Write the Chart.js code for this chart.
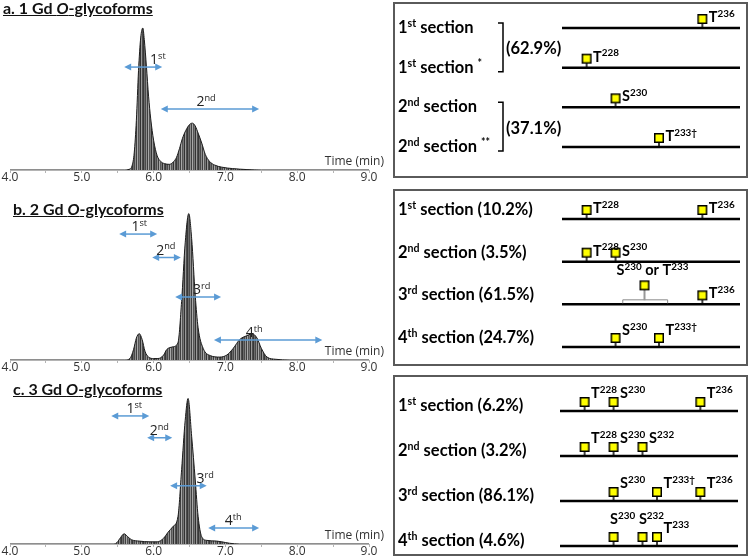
<!DOCTYPE html>
<html>
<head>
<meta charset="utf-8">
<script src="https://cdn.jsdelivr.net/npm/chart.js@4.4.1/dist/chart.umd.min.js"></script>
<style>
  body { margin: 0; width: 748px; height: 556px; overflow: hidden; background: #fff; position: relative; }
  .chrom { position: absolute; left: 0; }
  .title { position: absolute; font: bold 16px Lato, sans-serif; line-height: 16px; text-decoration: underline; color: #111; white-space: nowrap; }
  .box { position: absolute; left: 393px; width: 355px; border: 2px solid #5a5a5a; box-sizing: border-box; }
  .box canvas { position: absolute; left: 0; top: 0; }
</style>
</head>
<body>
<canvas id="chromA" class="chrom" width="392" height="186" style="top:0px"></canvas>
<canvas id="chromB" class="chrom" width="392" height="191" style="top:185px"></canvas>
<canvas id="chromC" class="chrom" width="392" height="190" style="top:370px"></canvas>
<div class="title" style="left:3px; top:0px">a. 1 Gd <i>O</i>-glycoforms</div>
<div class="title" style="left:13px; top:201px">b. 2 Gd <i>O</i>-glycoforms</div>
<div class="title" style="left:13px; top:381px">c. 3 Gd <i>O</i>-glycoforms</div>
<div class="box" style="top:2px; height:176px"><canvas id="siteA" width="351" height="172"></canvas></div>
<div class="box" style="top:189px; height:177px"><canvas id="siteB" width="351" height="173"></canvas></div>
<div class="box" style="top:375px; height:181px"><canvas id="siteC" width="351" height="177"></canvas></div>
<script>
// chromatograms: retention time (min) vs relative intensity (%)
const timeA = [4.0, 5.6, 5.66, 5.70, 5.73, 5.76, 5.79, 5.82, 5.85, 5.87, 5.90, 5.93, 5.96, 6.00, 6.05, 6.10, 6.15, 6.22, 6.28, 6.32, 6.36, 6.40, 6.45, 6.50, 6.54, 6.58, 6.62, 6.67, 6.72, 6.78, 6.85, 6.95, 7.10, 7.30, 7.50, 9.0];
const intensityA = [0, 0, 0.5, 3, 12, 35, 70, 93, 100, 92, 73, 52, 36, 21, 10, 6, 4.5, 4, 6, 9, 15, 22, 28, 32, 33, 31, 26, 19, 11, 6, 3.5, 2, 1, 0.3, 0, 0];

const timeB = [4.0, 5.6, 5.67, 5.72, 5.76, 5.80, 5.84, 5.88, 5.93, 6.0, 6.06, 6.14, 6.18, 6.27, 6.34, 6.39, 6.44, 6.49, 6.53, 6.58, 6.62, 6.69, 6.79, 6.92, 7.02, 7.11, 7.20, 7.32, 7.37, 7.44, 7.50, 7.58, 7.70, 7.9, 9.0];
const intensityB = [0, 0, 1, 7, 15, 18, 14, 6, 2, 1, 1, 3.4, 7, 9, 12, 40, 80, 100, 83, 44, 22, 8, 3, 2, 3.4, 8, 14, 17, 18, 15, 8, 2, 0.5, 0, 0];

const timeC = [4.0, 5.45, 5.49, 5.54, 5.59, 5.64, 5.69, 5.8, 5.95, 6.05, 6.14, 6.20, 6.27, 6.34, 6.39, 6.44, 6.48, 6.53, 6.58, 6.62, 6.67, 6.74, 6.88, 6.95, 7.06, 7.2, 9.0];
const intensityC = [0, 0, 1, 4.5, 7, 5, 3, 2, 1.5, 1.5, 4, 8, 12, 19, 51, 85, 100, 74, 44, 19, 5, 2.5, 2, 1.5, 0.5, 0, 0];

// section arrows on the chromatograms (time range, height in %, label)
const arrowFromA = [5.59, 6.10];
const arrowToA = [6.12, 7.47];
const arrowYA = [72.5, 43];
const arrowTextA = ['1^st', '2^nd'];
const arrowTextXA = [6.06, 6.73];

const arrowFromB = [5.52, 5.98, 6.30, 6.84];
const arrowToB = [6.05, 6.38, 6.94, 8.35];
const arrowYB = [86, 70, 43, 13.6];
const arrowTextB = ['1^st', '2^nd', '3^rd', '4^th'];
const arrowTextXB = [5.80, 6.17, 6.67, 7.40];

const arrowFromC = [5.41, 5.91, 6.23, 6.76];
const arrowToC = [5.94, 6.26, 6.74, 7.47];
const arrowYC = [88, 73, 40, 11];
const arrowTextC = ['1^st', '2^nd', '3^rd', '4^th'];
const arrowTextXC = [5.73, 6.08, 6.72, 7.11];

const timeTicks = [4.0, 5.0, 6.0, 7.0, 8.0, 9.0];

// glycosylation site maps (residue numbers on the peptide backbone)
const backbone = [226.3, 238.6];

const rowsA = ['1^st section', '1^st section ^*', '2^nd section', '2^nd section ^**'];
const shareA = ['(62.9%)', '(37.1%)'];
const siteRowA = [0, 1, 2, 3];
const siteResA = [236, 228, 230, 233];
const siteNameA = ['T^236', 'T^228', 'S^230', 'T^233†'];

const rowsB = ['1^st section', '2^nd section', '3^rd section', '4^th section'];
const shareB = [10.2, 3.5, 61.5, 24.7];
const siteRowB = [0, 0, 1, 1, 2, 3, 3];
const siteResB = [228, 236, 228, 230, 236, 230, 233];
const siteNameB = ['T^228', 'T^236', 'T^228', 'S^230', 'T^236', 'S^230', 'T^233†'];
const ambiguousRowB = [2];
const ambiguousResB = [232];
const ambiguousSpanB = [230.5, 233.6];
const ambiguousNameB = ['S^230 or T^233'];

const rowsC = ['1^st section', '2^nd section', '3^rd section', '4^th section'];
const shareC = [6.2, 3.2, 86.1, 4.6];
const siteRowC = [0, 0, 0, 1, 1, 1, 2, 2, 2, 3, 3, 3];
const siteResC = [228, 230, 236, 228, 230, 232, 230, 233, 236, 230, 232, 233];
const siteNameC = ['T^228', 'S^230', 'T^236', 'T^228', 'S^230', 'S^232', 'S^230', 'T^233†', 'T^236', 'S^230', 'S^232', 'T^233'];

const FONT = 'Lato, sans-serif';
const AXIS_FONT = '"Open Sans", sans-serif';

// text with ^superscripts
function parseRich(s) {
    const parts = [];
    let cur = '';
    let sup = false;
    for (const ch of s) {
        if (ch === '^') {
            if (cur) parts.push([cur, sup]);
            cur = '';
            sup = true;
            continue;
        }
        if (ch === ' ' && sup) {
            parts.push([cur, true]);
            cur = ' ';
            sup = false;
            continue;
        }
        cur += ch;
    }
    if (cur) parts.push([cur, sup]);
    return parts;
}

function drawRich(ctx, s, x, y, size, align, weight, family, supRatio) {
    const ratio = supRatio || 0.68;
    const parts = parseRich(s);
    const fonts = parts.map(p => `${weight} ${p[1] ? (size * ratio).toFixed(1) : size}px ${family}`);
    let w = 0;
    parts.forEach((p, i) => { ctx.font = fonts[i]; w += ctx.measureText(p[0]).width; });
    let cx = align === 'center' ? x - w / 2 : (align === 'right' ? x - w : x);
    ctx.textAlign = 'left';
    ctx.textBaseline = 'alphabetic';
    parts.forEach((p, i) => {
        ctx.font = fonts[i];
        ctx.fillText(p[0], cx, p[1] ? y - size * 0.36 : y);
        cx += ctx.measureText(p[0]).width;
    });
    return w;
}

// striped grey fill like the stacked spectra
function stripes() {
    const c = document.createElement('canvas');
    const greys = ['#383838', '#6a6a6a', '#4a4a4a', '#8e8e8e', '#404040', '#a8a8a8', '#555555', '#777777', '#333333', '#999999', '#4d4d4d'];
    c.width = greys.length;
    c.height = 1;
    const g = c.getContext('2d');
    greys.forEach((col, i) => { g.fillStyle = col; g.fillRect(i, 0, 1, 1); });
    return c;
}

const arrowPlugin = {
    id: 'arrows',
    afterDatasetsDraw(chart, args, opts) {
        const { ctx, chartArea } = chart;
        const x = chart.scales.x;
        const y = chart.scales.y;
        ctx.save();
        ctx.strokeStyle = '#5b9bd5';
        ctx.fillStyle = '#5b9bd5';
        ctx.lineWidth = 1.5;
        opts.from.forEach((f, i) => {
            const x1 = x.getPixelForValue(f);
            const x2 = x.getPixelForValue(opts.to[i]);
            const yy = y.getPixelForValue(opts.y[i]);
            ctx.beginPath();
            ctx.moveTo(x1 + 5, yy);
            ctx.lineTo(x2 - 5, yy);
            ctx.stroke();
            ctx.beginPath();
            ctx.moveTo(x1, yy); ctx.lineTo(x1 + 7, yy - 3.5); ctx.lineTo(x1 + 7, yy + 3.5); ctx.closePath();
            ctx.moveTo(x2, yy); ctx.lineTo(x2 - 7, yy - 3.5); ctx.lineTo(x2 - 7, yy + 3.5); ctx.closePath();
            ctx.fill();
        });
        ctx.fillStyle = '#222';
        opts.text.forEach((t, i) => {
            drawRich(ctx, t, x.getPixelForValue(opts.textX[i]), y.getPixelForValue(opts.y[i]) - 3, 14, 'center', 'normal', AXIS_FONT, 0.66);
        });
        ctx.fillStyle = '#333';
        ctx.font = '12px ' + AXIS_FONT;
        ctx.textAlign = 'right';
        ctx.textBaseline = 'alphabetic';
        ctx.fillText('Time (min)', 384, chartArea.bottom - 5);
        ctx.restore();
    }
};

function chromatogram(id, times, values, from, to, ys, text, textX) {
    const ctx = document.getElementById(id).getContext('2d');
    const points = times.map((t, i) => ({ x: t, y: values[i] }));
    return new Chart(ctx, { // eslint-disable-line
        type: 'line',
        data: {
            datasets: [{
                data: points,
                borderColor: '#1c1c1c',
                borderWidth: 1,
                backgroundColor: ctx.createPattern(stripes(), 'repeat'),
                fill: 'origin',
                pointRadius: 0,
                cubicInterpolationMode: 'monotone'
            }]
        },
        options: {
            responsive: false,
            animation: false,
            layout: { padding: { left: 10, right: 23, top: 11, bottom: 0 } },
            plugins: {
                legend: { display: false },
                tooltip: { enabled: false },
                arrows: { from: from, to: to, y: ys, text: text, textX: textX }
            },
            scales: {
                x: {
                    type: 'linear',
                    min: timeTicks[0],
                    max: timeTicks[timeTicks.length - 1],
                    afterFit: scale => { scale.height = 16; },
                    border: { color: '#b4b4b4', width: 1 },
                    grid: { drawOnChartArea: false, tickLength: 3, color: '#b4b4b4' },
                    ticks: {
                        stepSize: 0.5,
                        padding: -3,
                        maxRotation: 0,
                        autoSkip: false,
                        color: '#333',
                        font: { family: AXIS_FONT, size: 12 },
                        callback: v => timeTicks.includes(v) ? v.toFixed(1) : ''
                    }
                },
                y: { display: false, min: 0, max: 112 }
            }
        },
        plugins: [arrowPlugin]
    });
}

chromatogram('chromA', timeA, intensityA, arrowFromA, arrowToA, arrowYA, arrowTextA, arrowTextXA);
chromatogram('chromB', timeB, intensityB, arrowFromB, arrowToB, arrowYB, arrowTextB, arrowTextXB);
chromatogram('chromC', timeC, intensityC, arrowFromC, arrowToC, arrowYC, arrowTextC, arrowTextXC);

// yellow square (GalNAc) with a stem down to the backbone
function glycan(rise, stemEnd, stemColor) {
    const c = document.createElement('canvas');
    c.width = 12;
    c.height = 2 * (rise + 6);
    const line = c.height / 2;
    const g = c.getContext('2d');
    g.strokeStyle = stemColor;
    g.lineWidth = stemColor === '#000' ? 1.5 : 1;
    g.beginPath(); g.moveTo(6, 10); g.lineTo(6, line - stemEnd); g.stroke();
    g.fillStyle = '#ffff00';
    g.fillRect(1.75, line - rise - 4.25, 8.5, 8.5);
    g.strokeStyle = '#000';
    g.lineWidth = 1.5;
    g.strokeRect(1.75, line - rise - 4.25, 8.5, 8.5);
    return c;
}

const sitePlugin = {
    id: 'sites',
    afterDatasetsDraw(chart, args, opts) {
        const { ctx } = chart;
        const x = chart.scales.x;
        const y = chart.scales.y;
        ctx.save();
        ctx.fillStyle = '#000';
        ctx.strokeStyle = '#000';
        opts.rows.forEach((r, i) => {
            drawRich(ctx, r, 3, y.getPixelForValue(i) + opts.textDy, 16.5, 'left', 'bold', FONT, 0.64);
        });
        if (opts.groups) {
            ctx.lineWidth = 1.5;
            opts.groups.forEach((g, i) => {
                const top = y.getPixelForValue(2 * i) - 5;
                const bottom = y.getPixelForValue(2 * i + 1) + 4;
                ctx.beginPath();
                ctx.moveTo(103, top); ctx.lineTo(108, top); ctx.lineTo(108, bottom); ctx.lineTo(103, bottom);
                ctx.stroke();
                drawRich(ctx, g, 111, (top + bottom) / 2 + 7, 16.5, 'left', 'bold', FONT);
            });
        }
        const meta = chart.getDatasetMeta(opts.siteIndex);
        meta.data.forEach((el, i) => {
            const sq = el.y - 9;
            if (opts.place[i] === 'a') {
                drawRich(ctx, opts.names[i], el.x + 9, sq - 13, 14.5, 'center', 'bold', FONT, 0.68);
            } else {
                const rise = opts.place[i] === 'u' ? -3 : opts.rise;
                drawRich(ctx, opts.names[i], el.x + 6.5, sq + rise, 14.5, 'left', 'bold', FONT, 0.68);
            }
        });
        if (opts.ambiguous) {
            const amb = chart.getDatasetMeta(opts.siteIndex + 1);
            amb.data.forEach((el, i) => {
                const xa = x.getPixelForValue(opts.span[0]);
                const xb = x.getPixelForValue(opts.span[1]);
                ctx.strokeStyle = '#8a8a8a';
                ctx.lineWidth = 1;
                ctx.beginPath();
                ctx.moveTo(xa, el.y - 1); ctx.lineTo(xa, el.y - 4.5); ctx.lineTo(xb, el.y - 4.5); ctx.lineTo(xb, el.y - 1);
                ctx.stroke();
                drawRich(ctx, opts.ambiguous[i], el.x + 8, el.y - 19 - 10, 14.5, 'center', 'bold', FONT, 0.68);
            });
        }
        ctx.restore();
    }
};

function siteMap(id, rows, siteRow, siteRes, names, place, extra) {
    const ctx = document.getElementById(id).getContext('2d');
    const datasets = rows.map((r, i) => ({
        type: 'line',
        data: [{ x: backbone[0], y: i }, { x: backbone[1], y: i }],
        borderColor: '#000',
        borderWidth: 2.5,
        pointRadius: 0,
        clip: false
    }));
    datasets.push({
        type: 'scatter',
        data: siteRes.map((r, i) => ({ x: r, y: siteRow[i] })),
        pointStyle: glycan(9, 0, '#000'),
        clip: false
    });
    if (extra.ambRes) {
        datasets.push({
            type: 'scatter',
            data: extra.ambRes.map((r, i) => ({ x: r, y: extra.ambRow[i] })),
            pointStyle: glycan(19, 4.5, '#333'),
            clip: false
        });
    }
    return new Chart(ctx, { // eslint-disable-line
        type: 'scatter',
        data: { datasets: datasets },
        options: {
            responsive: false,
            animation: false,
            layout: { padding: extra.padding },
            plugins: {
                legend: { display: false },
                tooltip: { enabled: false },
                sites: {
                    rows: rows,
                    groups: extra.groups,
                    textDy: extra.textDy,
                    rise: extra.rise,
                    siteIndex: rows.length,
                    names: names,
                    place: place,
                    ambiguous: extra.ambName,
                    span: extra.span
                }
            },
            scales: {
                x: { type: 'linear', display: false, min: backbone[0], max: backbone[1] },
                y: { type: 'linear', display: false, min: 0, max: rows.length - 1, reverse: true }
            }
        },
        plugins: [sitePlugin]
    });
}

siteMap('siteA', rowsA, siteRowA, siteResA, siteNameA, siteNameA.map(() => 'r'), {
    padding: { left: 167, right: 6, top: 24, bottom: 29 },
    groups: shareA, textDy: 5, rise: 3
});
siteMap('siteB', rowsB.map((r, i) => `${r} (${shareB[i]}%)`), siteRowB, siteResB, siteNameB,
    ['r', 'r', 'r', 'r', 'r', 'u', 'u'], {
    padding: { left: 167, right: 6, top: 28, bottom: 17 },
    textDy: -4, rise: 3,
    ambRes: ambiguousResB, ambRow: ambiguousRowB, ambName: ambiguousNameB, span: ambiguousSpanB
});
siteMap('siteC', rowsC.map((r, i) => `${r} (${shareC[i]}%)`), siteRowC, siteResC, siteNameC,
    ['r', 'r', 'r', 'r', 'r', 'r', 'r', 'r', 'r', 'a', 'a', 'r'], {
    padding: { left: 165, right: 8, top: 34, bottom: 8 },
    textDy: 0, rise: -4
});
</script>
</body>
</html>
